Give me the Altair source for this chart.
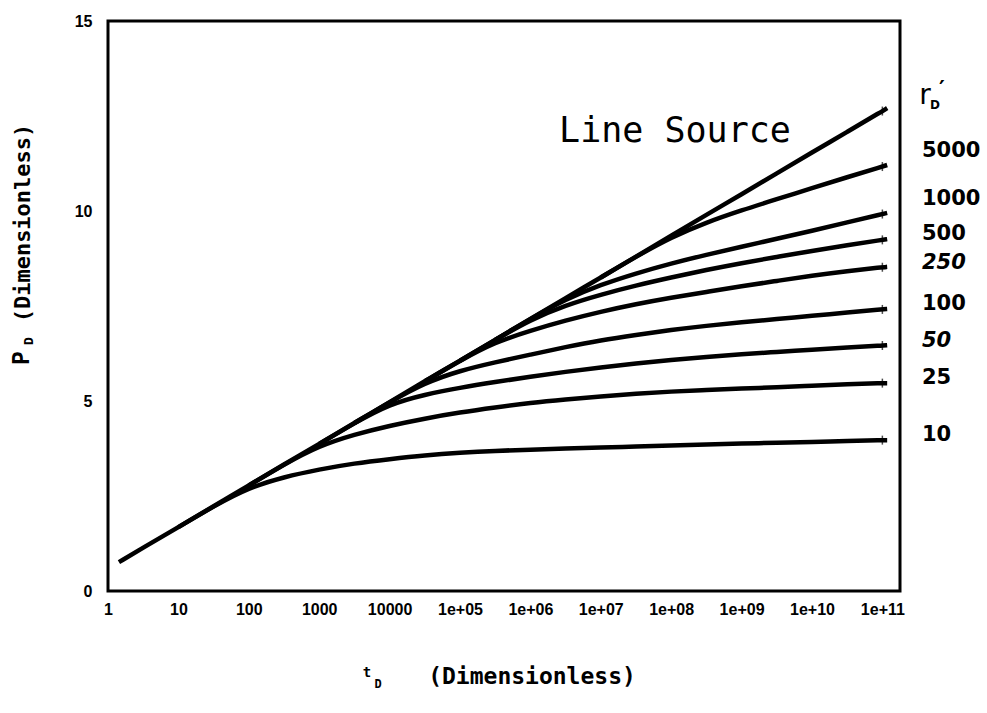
import altair as alt
import pandas as pd

# ---- data ----
t_D = [1.43, 3.16, 10, 31.6, 100, 316, 1e3, 3162, 1e4, 31623, 1e5, 316228,
       1e6, 3.162e6, 1e7, 3.162e7, 1e8, 3.162e8, 1e9, 3.162e9, 1e10, 3.162e10,
       1e11, 1.17e11]
N = None
line_source = [0.76, 1.14, 1.68, 2.23, 2.78, 3.33, 3.87, 4.42, 4.97, 5.52, 6.06, 6.61,
               7.16, 7.71, 8.25, 8.80, 9.35, 9.90, 10.44, 10.99, 11.54, 12.08, 12.63, 12.71]
r5000 = [N] * 14 + [8.25, 8.80, 9.31, 9.70, 10.02, 10.31, 10.60, 10.89, 11.17, 11.21]
r1000 = [N] * 11 + [6.61, 7.16, 7.68, 8.06, 8.36, 8.62, 8.85, 9.06, 9.27, 9.48, 9.70, 9.92, 9.95]
r500 = [N] * 10 + [6.06, 6.61, 7.14, 7.52, 7.80, 8.04, 8.25, 8.45, 8.63, 8.79, 8.95, 9.10, 9.24, 9.26]
r250 = [N] * 9 + [5.52, 6.06, 6.55, 6.85, 7.12, 7.35, 7.55, 7.72, 7.87, 8.02, 8.16, 8.30, 8.42,
                  8.52, 8.53]
r100 = [N] * 7 + [4.42, 4.97, 5.48, 5.80, 6.02, 6.22, 6.42, 6.60, 6.74, 6.87, 6.98, 7.07, 7.16,
                  7.24, 7.33, 7.41, 7.42]
r50 = [N] * 6 + [3.87, 4.42, 4.92, 5.17, 5.35, 5.50, 5.64, 5.77, 5.88, 5.99, 6.08, 6.16, 6.23,
                 6.29, 6.35, 6.41, 6.46, 6.47]
r25 = [N] * 4 + [2.78, 3.33, 3.82, 4.12, 4.35, 4.54, 4.70, 4.83, 4.95, 5.04, 5.12, 5.19, 5.25,
                 5.29, 5.33, 5.36, 5.40, 5.44, 5.47, 5.47]
r10 = [N] * 2 + [1.68, 2.23, 2.72, 3.00, 3.20, 3.36, 3.47, 3.57, 3.64, 3.69, 3.72, 3.75, 3.78,
                 3.80, 3.83, 3.86, 3.88, 3.90, 3.92, 3.95, 3.97, 3.97]

series_names = ["Line Source", "5000", "1000", "500", "250", "100", "50", "25", "10"]
series_values = [line_source, r5000, r1000, r500, r250, r100, r50, r25, r10]

x_tick_values = [1, 10, 100, 1e3, 1e4, 1e5, 1e6, 1e7, 1e8, 1e9, 1e10, 1e11]
x_tick_labels = ["1", "10", "100", "1000", "10000", "1e+05", "1e+06", "1e+07",
                 "1e+08", "1e+09", "1e+10", "1e+11"]
y_tick_values = [0, 5, 10, 15]

# ---- tables ----
rows = []
for name, vals in zip(series_names, series_values):
    for t, p in zip(t_D, vals):
        if p is not None:
            rows.append({"series": name, "t": t, "p": p})
df = pd.DataFrame(rows)

end_df = pd.DataFrame({"series": series_names,
                       "t": [t_D[22]] * len(series_names),
                       "p": [v[22] for v in series_values]})
lab_df = pd.DataFrame({"label": series_names[1:], "p": [v[-1] for v in series_values[1:]]})

label_expr = "[" + ",".join("'%s'" % s for s in x_tick_labels) + "][round(log(datum.value)/LN10)]"

xscale = alt.Scale(type="log", domain=[1, 1.78e11], nice=False)
yscale = alt.Scale(domain=[0, 15], nice=False, zero=False)

TICKFONT = "Liberation Sans"
PLOTFONT = "DejaVu Sans Mono"

base = alt.Chart(df)
lines = base.mark_line(color="black", strokeWidth=4.5, interpolate="basis", clip=True).encode(
    x=alt.X("t:Q", scale=xscale,
            axis=alt.Axis(values=x_tick_values, labelExpr=label_expr, ticks=False, domain=False,
                          grid=False, title=None, labelFont=TICKFONT, labelFontSize=16,
                          labelFontWeight="bold", labelColor="black", labelPadding=10,
                          labelOverlap=False, labelFlush=False)),
    y=alt.Y("p:Q", scale=yscale,
            axis=alt.Axis(values=y_tick_values, format="d", ticks=False, domain=False,
                          grid=False, title=None, labelFont=TICKFONT, labelFontSize=16,
                          labelFontWeight="bold", labelColor="black", labelPadding=16)),
    detail="series:N",
)

end_ticks = alt.Chart(end_df).mark_tick(color="black", orient="vertical", size=9, thickness=1.5).encode(
    x=alt.X("t:Q", scale=xscale), y=alt.Y("p:Q", scale=yscale))

lab_common = dict(align="left", baseline="middle", font="DejaVu Sans", fontSize=21,
                  fontWeight="bold", color="black")
lab_top = alt.Chart(lab_df).transform_filter(
    alt.FieldOneOfPredicate(field="label", oneOf=["5000", "1000"])
).mark_text(dy=-14, **lab_common).encode(y=alt.Y("p:Q", scale=yscale), x=alt.value(814), text="label:N")
lab_plain = alt.Chart(lab_df).transform_filter(
    alt.FieldOneOfPredicate(field="label", oneOf=["500", "100", "25", "10"])
).mark_text(dy=-5, **lab_common).encode(y=alt.Y("p:Q", scale=yscale), x=alt.value(814), text="label:N")
lab_ital = alt.Chart(lab_df).transform_filter(
    alt.FieldOneOfPredicate(field="label", oneOf=["250", "50"])
).mark_text(dy=-4, fontStyle="italic", **lab_common).encode(
    y=alt.Y("p:Q", scale=yscale), x=alt.value(814), text="label:N")


def txt(s, x, y, **kw):
    return alt.Chart(pd.DataFrame({"s": [s]})).mark_text(color="black", **kw).encode(
        text="s:N", x=alt.value(x), y=alt.value(y))


annotations = [
    txt("Line Source", 567, 110, font=PLOTFONT, fontSize=35, align="center", baseline="middle"),
    # r_D' header
    txt("r", 817, 75, font="DejaVu Sans", fontSize=28, align="center", baseline="middle"),
    txt("D", 827, 84, font="DejaVu Sans", fontSize=12, fontWeight="bold", align="center", baseline="middle"),
    txt("\u2032", 834, 68, font="DejaVu Sans", fontSize=22, fontWeight="bold", align="center",
        baseline="middle"),
    # x title
    txt("t", 259, 652, font=PLOTFONT, fontSize=14, fontWeight="bold", align="center", baseline="middle"),
    txt("D", 270, 663, font=PLOTFONT, fontSize=12, fontWeight="bold", align="center", baseline="middle"),
    txt("(Dimensionless)", 424, 656, font=PLOTFONT, fontSize=23, fontWeight="bold",
        align="center", baseline="middle"),
    # y title
    txt("P", -86, 337, font=PLOTFONT, fontSize=23, fontWeight="bold", angle=270,
        align="center", baseline="middle"),
    txt("D", -79, 320, font=PLOTFONT, fontSize=13, fontWeight="bold", angle=270,
        align="center", baseline="middle"),
    txt("(Dimensionless)", -85, 202, font=PLOTFONT, fontSize=22, fontWeight="bold", angle=270,
        align="center", baseline="middle"),
]

chart = alt.layer(lines, end_ticks, lab_top, lab_plain, lab_ital, *annotations).properties(
    width=792, height=570,
    autosize=alt.AutoSizeParams(type="none"),
    padding={"left": 108, "top": 21, "right": 87, "bottom": 122},
    background="white",
).configure_view(stroke="black", strokeWidth=3)

chart.save("out.html", embed_options={"renderer": "svg", "actions": False})
